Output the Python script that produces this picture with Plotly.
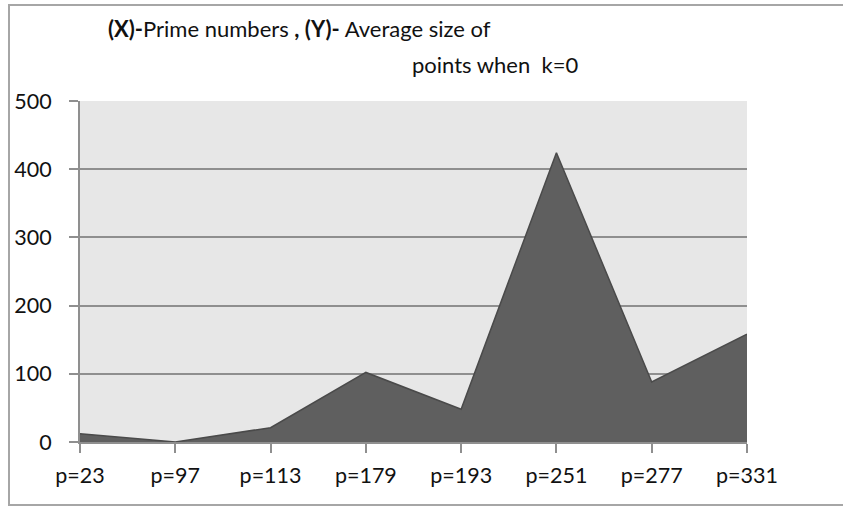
import plotly.graph_objects as go

categories = ["p=23", "p=97", "p=113", "p=179", "p=193", "p=251", "p=277", "p=331"]
avg_size = [12, 0, 21, 102, 48, 424, 88, 158]
y_ticks = [0, 100, 200, 300, 400, 500]

W, H = 843, 506
L, R, T, B = 80, 96, 101, 64
pw, ph = W - L - R, H - T - B

def px(x):
    return (x - L) / pw

def py(y):
    return (H - B - y) / ph

fig = go.Figure()
fig.add_trace(go.Scatter(
    x=list(range(len(categories))), y=avg_size,
    mode="lines", fill="tozeroy",
    fillcolor="#5f5f5f", line=dict(color="#4a4a4a", width=1.5),
    hoverinfo="skip", showlegend=False,
))

font = "Lato, Carlito, Calibri, sans-serif"
fig.update_layout(
    width=W, height=H,
    margin=dict(l=L, r=R, t=T, b=B, autoexpand=False),
    paper_bgcolor="white", plot_bgcolor="#e7e7e7",
    font=dict(family=font, size=21.5, color="#111111"),
    xaxis=dict(
        range=[0, len(categories) - 1],
        tickvals=list(range(len(categories))), ticktext=categories,
        showgrid=False, zeroline=False, automargin=False,
        showline=True, linecolor="#8f8f8f", linewidth=2,
        ticks="outside", ticklen=9, tickwidth=2, tickcolor="#8f8f8f",
        ticklabelstandoff=4,
    ),
    yaxis=dict(
        range=[0, 500], tickvals=y_ticks,
        showgrid=True, gridcolor="#8f8f8f", gridwidth=2,
        zeroline=False, automargin=False,
        showline=True, linecolor="#8f8f8f", linewidth=2,
        ticks="outside", ticklen=9, tickwidth=2, tickcolor="#8f8f8f",
        ticklabelstandoff=13,
    ),
    shapes=[dict(
        type="rect", xref="paper", yref="paper",
        x0=px(9), x1=px(860), y0=py(505), y1=py(5),
        line=dict(color="#a6a6a6", width=2), layer="below",
    )],
    annotations=[
        dict(text="<b>(X)-</b>Prime numbers <b>, (Y)-</b> Average size of",
             xref="paper", yref="paper", x=px(106), y=py(29),
             xanchor="left", yanchor="middle", showarrow=False,
             font=dict(family=font, size=22, color="#111111")),
        dict(text="points when  k=0",
             xref="paper", yref="paper", x=px(410), y=py(64),
             xanchor="left", yanchor="middle", showarrow=False,
             font=dict(family=font, size=22, color="#111111")),
    ],
)

fig.write_html("out.html", config={"displayModeBar": False},
               post_script="document.body.style.margin='0';")
